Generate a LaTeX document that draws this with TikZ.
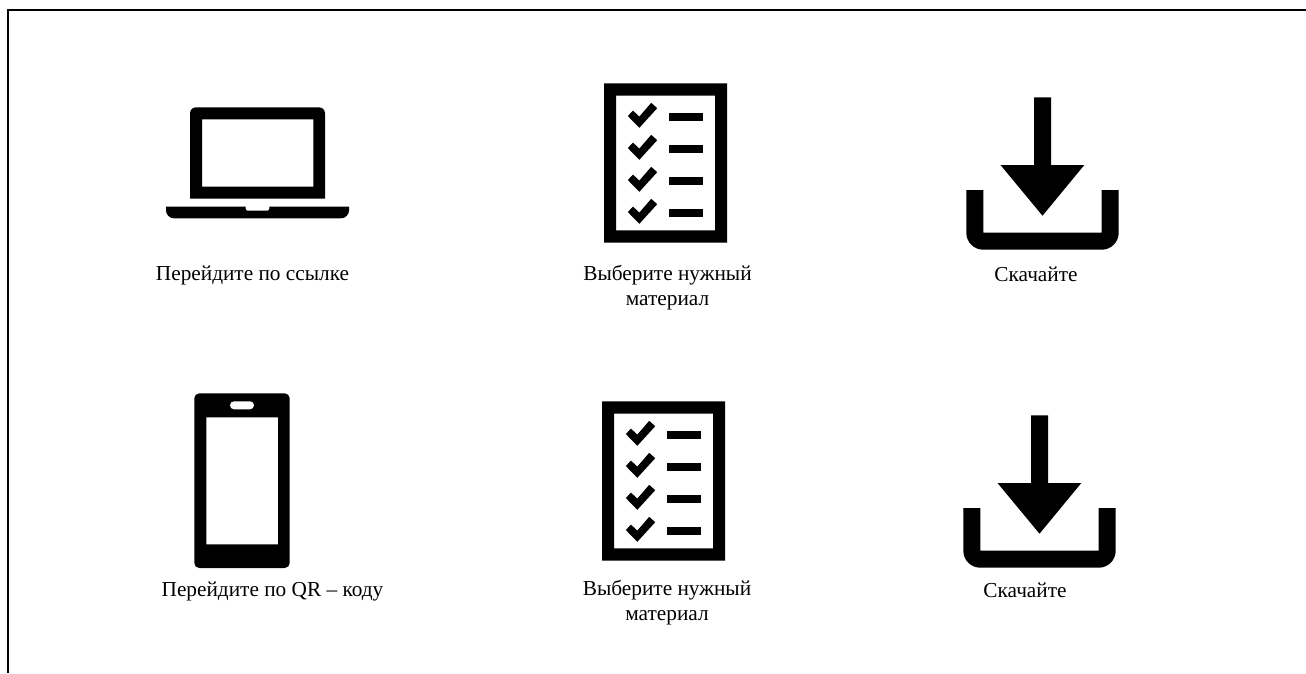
\documentclass[tikz,border=0pt]{standalone}
\usepackage{fontspec}
\setmainfont{Liberation Serif}
\newcommand{\mychecks}[2]{%
 \begin{scope}[shift={(#1,#2)}]
 \fill[pen,even odd rule] (604,83.3) rectangle (727,242.5) (616,95.5) rectangle (715,230.3);
 \foreach \yy in {0,32,64,96}{
  \fill[pen] (669,113+\yy) rectangle (703,121+\yy);
  \fill[pen] (627.8,116+\yy) -- (633,110.6+\yy) -- (639.3,116.6+\yy) -- (651.2,102.8+\yy) -- (657.2,108.2+\yy) -- (639.3,127.8+\yy) -- cycle;
 }
 \end{scope}}
\newcommand{\mydown}[2]{%
 \begin{scope}[shift={(#1,#2)}]
 \fill[pen] (1034,97.3) -- (1051,97.3) -- (1051,165) -- (1084.3,165) -- (1042.5,215.7) -- (1000.5,165) -- (1034,165) -- cycle;
 \fill[pen] (1040,249.7) [rounded corners=17pt] -- (966.3,249.7) [sharp corners] -- (966.3,190) -- (983.3,190) -- (983.3,232.7) -- (1101.7,232.7) -- (1101.7,190) -- (1118.7,190) [rounded corners=17pt] -- (1118.7,249.7) [sharp corners] -- cycle;
 \end{scope}}
\begin{document}
\begin{tikzpicture}[x=1pt,y=-1pt,
  lbl/.style={font=\fontsize{21.3}{25}\selectfont,align=center,anchor=center,inner sep=0pt,text=black},
  pen/.style={fill=black,draw=none}]
\useasboundingbox (0,0) rectangle (1306,673);
\coordinate (tl) at (8,10.3);
\coordinate (tr) at (1306,10.3);
\coordinate (bl) at (8,673);
\draw[line width=2pt,black] (bl) -- (tl) -- (tr);
% laptop
\fill[pen,even odd rule] (257,198.7) -- (190,198.7) [rounded corners=6pt] -- (190,107.3) -- (325,107.3) [sharp corners] -- (325,198.7) -- cycle
 (202,119.3) rectangle (313.3,186.7);
\fill[pen] (166,206.5) -- (245.7,206.5) [rounded corners=2pt] -- (245.7,210.7) -- (269.3,210.7) [sharp corners] -- (269.3,206.5) -- (349,206.5) [rounded corners=8pt] -- (349,218.3) -- (166,218.3) [sharp corners] -- cycle;
% checklists
\mychecks{0}{0}
\mychecks{-2}{318}
% downloads
\mydown{0}{0}
\mydown{-3}{318}
% phone
\fill[pen,even odd rule] (242,393.3) [rounded corners=5pt] -- (289.7,393.3) -- (289.7,568) -- (194.3,568) -- (194.3,393.3) [sharp corners] -- cycle
 (206.3,417.3) rectangle (278,544.3);
\fill[white,rounded corners=4pt] (230,401.3) rectangle (254,409.3);
% labels
\node[lbl] (a) at (252.5,275) {Перейдите по ссылке};
\node[lbl] (b) at (667.5,288) {Выберите нужный\\материал};
\node[lbl] (c) at (1036,274.5) {Скачайте};
\node[lbl] (d) at (272.5,591.5) {Перейдите по QR – коду};
\node[lbl] (e) at (667,602.5) {Выберите нужный\\материал};
\node[lbl] (f) at (1025,590.5) {Скачайте};
\end{tikzpicture}
\end{document}
